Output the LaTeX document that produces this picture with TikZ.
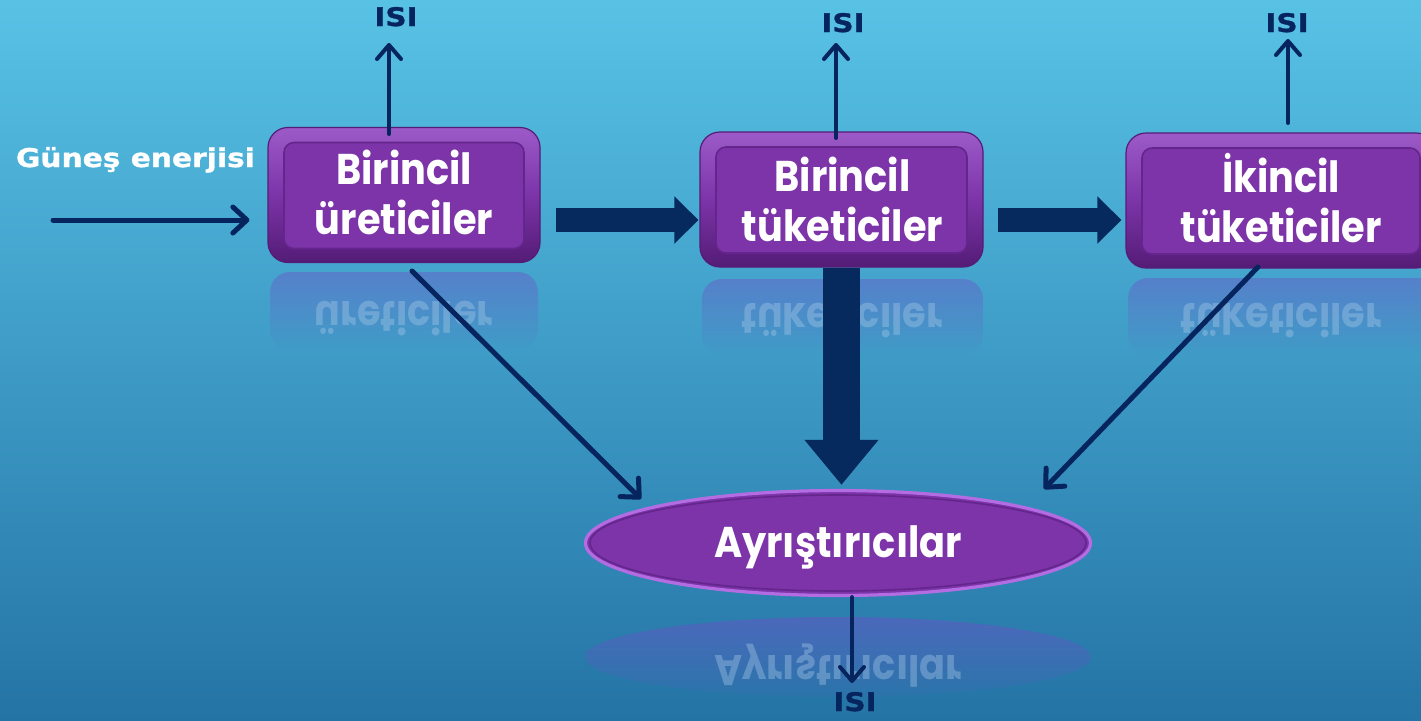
\documentclass[tikz,border=0pt]{standalone}
\usepackage{fontspec}
\setmainfont{Poppins}
\newfontfamily\boxfont{Poppins}[FakeStretch=0.89]
\newfontfamily\heavyfont{DejaVu Sans}[FakeStretch=1.15, FakeBold=1.2]
\usetikzlibrary{arrows.meta,fadings,shapes.geometric,calc}
\definecolor{bgtop}{RGB}{88,194,229}
\definecolor{bgmid}{RGB}{60,160,202}
\definecolor{bgbot}{RGB}{36,116,166}
\definecolor{navy}{RGB}{6,36,94}
\definecolor{blocknavy}{RGB}{6,42,94}
\definecolor{boxfill}{RGB}{124,52,168}
\definecolor{boxlight}{RGB}{156,90,200}
\definecolor{boxdark}{RGB}{84,28,118}
\definecolor{boxline}{RGB}{100,38,140}
\definecolor{rim}{RGB}{180,108,226}
\definecolor{reflfill}{RGB}{110,80,200}
\definecolor{refltext}{RGB}{165,200,232}
\tikzfading[name=reflfade, top color=transparent!15, bottom color=transparent!100]
\tikzfading[name=ellfade, top color=transparent!20, middle color=transparent!35, bottom color=transparent!90]
\begin{document}
\begin{tikzpicture}[x=0.5pt,y=-0.5pt,
  procbox/.style={rectangle, rounded corners=10pt, top color=boxlight, bottom color=boxdark, middle color=boxfill,
    draw=boxdark, line width=0.6pt, minimum height=67.5pt, inner sep=0pt,
    path picture={\draw[boxline, line width=0.8pt, fill=boxfill, rounded corners=5pt]
      ([shift={(8pt,-7.5pt)}]path picture bounding box.north west) rectangle
      ([shift={(-8pt,7pt)}]path picture bounding box.south east);}},
  boxtext/.style={text=white, align=center, inner sep=0pt,
    font=\boxfont\bfseries\fontsize{21.5}{25}\selectfont},
  reflbox/.style={fill=reflfill, fill opacity=0.5, path fading=reflfade, rounded corners=10pt},
  refltext/.style={text=refltext, text opacity=0.4, inner sep=0pt, anchor=base, yscale=-1,
    font=\boxfont\bfseries\fontsize{21.5}{25}\selectfont},
  isi/.style={text=navy, inner sep=0pt, anchor=base, font=\heavyfont\bfseries\fontsize{12.8}{14}\selectfont},
  arr/.style={draw=navy, line width=2.5pt, line cap=round, -{Straight Barb[round, length=7pt, width=13pt]}},
  uparr/.style={draw=navy, line width=2pt, line cap=round, -{Straight Barb[round, length=7pt, width=12pt]}},
  blockarr/.style={draw=blocknavy, line width=12pt, -{Triangle[length=12pt, width=23pt]}},
]
\useasboundingbox (0,0) rectangle (1421,720);
\clip (0,0) rectangle (1421,720);
% background
\shade[top color=bgtop, middle color=bgmid, bottom color=bgbot] (0,0) rectangle (1421,720);

% reflections
\fill[reflbox] (270,272) rectangle (538,350);
\fill[reflbox] (702,279) rectangle (983,355);
\fill[reflbox] (1128,278) rectangle (1440,355);
\node[refltext] (r1) at (404,301) {üreticiler};
\node[refltext] (r2) at (842,303) {tüketiciler};
\node[refltext] (r3) at (1281,303) {tüketiciler};
\fill[fill=reflfill, fill opacity=0.6, path fading=ellfade] (838,657) ellipse [x radius=126.5pt, y radius=20pt];
\node[refltext] (r4) at (838,655) {Ayrıştırıcılar};

% boxes
\node[procbox, minimum width=136pt] (b1) at (404,195) {};
\node[procbox, minimum width=141.5pt] (b2) at (841.5,199.5) {};
\node[procbox, minimum width=155pt] (b3) at (1281,200.5) {};
\node[boxtext] (t1) at ([yshift=1.5pt]b1.center) {Birincil\\üreticiler};
\node[boxtext] (t2) at ([xshift=0.5pt,yshift=0pt]b2.center) {Birincil\\tüketiciler};
\node[boxtext] (t3) at ([yshift=1pt]b3.center) {İkincil\\tüketiciler};

% decomposers
\node[ellipse, inner sep=0pt, minimum width=252.5pt, minimum height=52.5pt,
  fill=boxfill, draw=rim, line width=1.6pt] (dec) at (838,543) {};
\draw[boxline, line width=0.8pt] (dec.center) ellipse [x radius=124pt, y radius=24pt];
\node[boxtext] (t4) at ([yshift=-2pt]dec.center) {Ayrıştırıcılar};

% labels
\node[text=white, inner sep=0pt, anchor=base, font=\heavyfont\bfseries\fontsize{12.9}{14}\selectfont] (sun) at (135.5,167) {Güneş enerjisi};
\node[isi] (isi1) at (396,26) {ISI};
\node[isi] (isi2) at (843,32) {ISI};
\node[isi] (isi3) at (1287,32) {ISI};
\node[isi] (isi4) at (855,711) {ISI};

% coordinates for free ends
\coordinate (s0) at (53,220);
\coordinate (u1a) at (389,134);
\coordinate (u1b) at (389,43);
\coordinate (u2a) at (836,138);
\coordinate (u2b) at (836,43);
\coordinate (u3a) at (1288,123);
\coordinate (u3b) at (1288,39);
\coordinate (d1a) at (412,271);
\coordinate (d1b) at (641,499);
\coordinate (d2a) at (1258,267);
\coordinate (d2b) at (1044,489);
\coordinate (bo) at (852,683);
\coordinate (row) at (0,220);

% connectors
\draw[arr, shorten >=9pt] (s0) -- (s0 -| b1.west);
\draw[uparr] (u1a) -- (u1b);
\draw[uparr] (u2a) -- (u2b);
\draw[uparr] (u3a) -- (u3b);
\draw[blockarr, shorten <=7.5pt, shorten >=0.5pt] (row -| b1.east) -- (row -| b2.west);
\draw[blockarr, shorten <=7pt, shorten >=2pt] (row -| b2.east) -- (row -| b3.west);
\draw[blocknavy, line width=18.5pt, -{Triangle[length=22.5pt, width=35.5pt]}, shorten >=2pt] (b2.south) -- (b2.south |- dec.north);
\draw[arr] (d1a) -- (d1b);
\draw[arr] (d2a) -- (d2b);
\draw[uparr] (dec.south -| bo) -- (bo);
\end{tikzpicture}
\end{document}
